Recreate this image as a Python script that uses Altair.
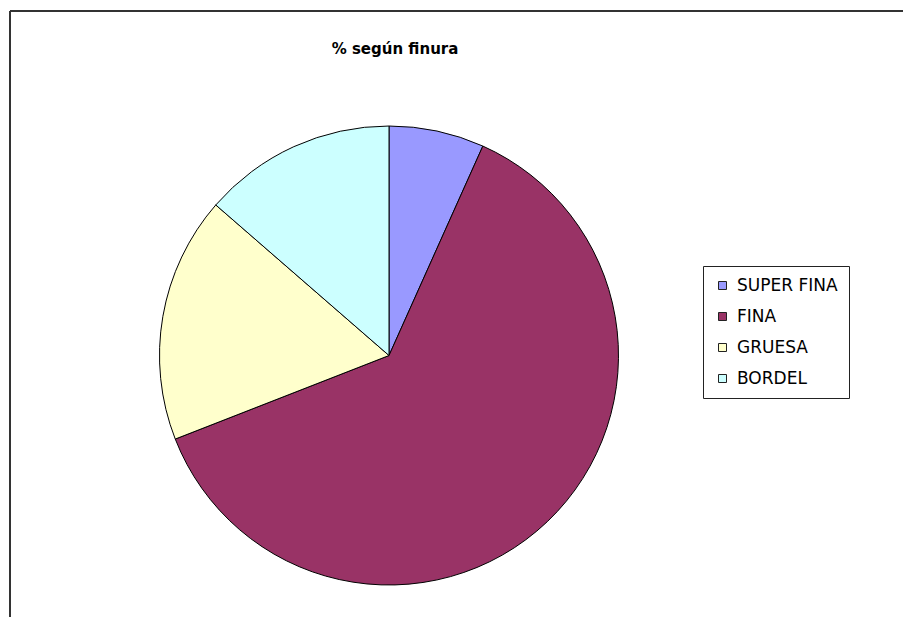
import altair as alt
import pandas as pd

categories = ["SUPER FINA", "FINA", "GRUESA", "BORDEL"]
values = [6.7, 62.3, 17.3, 13.6]
colors = ["#9999FF", "#993366", "#FFFFCC", "#CCFFFF"]
title_text = "%  según finura"

df = pd.DataFrame({"cat": categories, "val": values, "ord": list(range(len(categories)))})

W, H = 895, 609
cx, cy, r = 381, 347.5, 229.5

pie = alt.Chart(df).mark_arc(radius=r, stroke="black", strokeWidth=1).encode(
    theta=alt.Theta("val:Q", stack=True),
    order=alt.Order("ord:Q"),
    color=alt.Color(
        "cat:N",
        sort=categories,
        scale=alt.Scale(domain=categories, range=colors),
        legend=alt.Legend(
            title=None,
            orient="none",
            legendX=695,
            legendY=258,
            strokeColor="#222222",
            padding=11,
            rowPadding=13,
            symbolType="square",
            symbolSize=64,
            symbolStrokeColor="#222222",
            symbolStrokeWidth=1,
            labelFont="DejaVu Sans",
            labelFontSize=17,
            labelColor="black",
            labelOffset=6,
            fillColor="white",
        ),
    ),
    x=alt.value(cx),
    y=alt.value(cy),
)

title = alt.Chart(pd.DataFrame({"t": [title_text]})).mark_text(
    font="DejaVu Sans", fontSize=15, fontWeight="bold", color="black", align="center", baseline="middle"
).encode(text="t:N", x=alt.value(387), y=alt.value(41))

border_top = alt.Chart(pd.DataFrame({"a": [0]})).mark_rule(color="#333333", strokeWidth=2).encode(
    x=alt.value(2), x2=alt.value(W + 10), y=alt.value(3)
)
border_left = alt.Chart(pd.DataFrame({"a": [0]})).mark_rule(color="#333333", strokeWidth=2).encode(
    x=alt.value(2), y=alt.value(3), y2=alt.value(H + 10)
)

chart = alt.layer(border_top, border_left, pie, title).properties(
    width=W, height=H, padding=0, autosize=alt.AutoSizeParams(type="none"), background="white"
).configure_view(stroke=None)

chart.save("out.html", embed_options={"renderer": "svg", "actions": False})
